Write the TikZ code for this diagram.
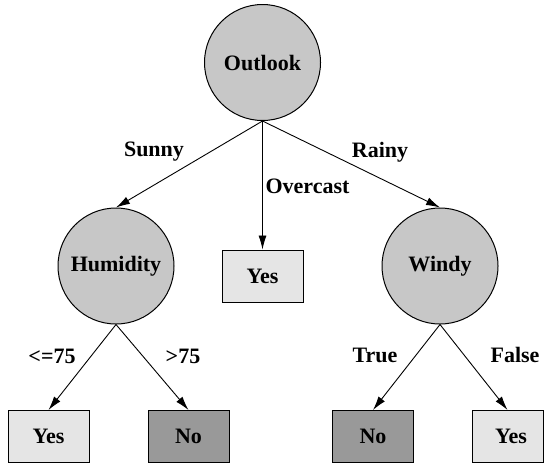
\documentclass[tikz,border=0pt]{standalone}
\usepackage{fontspec}
\setmainfont{Liberation Serif}
\usetikzlibrary{arrows.meta}
\definecolor{circfill}{gray}{0.78}
\definecolor{lightbox}{gray}{0.90}
\definecolor{darkbox}{gray}{0.60}
\tikzset{
  every node/.style={font=\fontsize{22}{26}\selectfont\bfseries},
  decision/.style={circle, draw, line width=1pt, fill=circfill, minimum size=116pt, inner sep=0pt},
  leafyes/.style={rectangle, draw, line width=1pt, fill=lightbox, minimum width=81pt, minimum height=52pt, inner sep=0pt},
  leafno/.style={rectangle, draw, line width=1pt, fill=darkbox, minimum width=81pt, minimum height=52pt, inner sep=0pt},
  branch/.style={line width=0.9pt, -{Latex[length=14pt,width=8pt]}},
  lbl/.style={anchor=base}
}
\begin{document}
\begin{tikzpicture}[x=1pt,y=-1pt]
\useasboundingbox (0,0) rectangle (545,464);
\node[decision] (outlook) at (262.5,62.5) {Outlook};
\node[decision] (humidity) at (116,266) {Humidity};
\node[decision] (windy) at (440,266) {Windy};
\node[leafyes] (yesmid) at (262.5,276) {Yes};
\node[leafyes] (yes1) at (48.5,436.5) {Yes};
\node[leafno] (no1) at (188.5,436.5) {No};
\node[leafno] (no2) at (373,436.5) {No};
\node[leafyes, minimum width=71pt] (yes2) at (507.5,436.5) {\hspace*{7pt}Yes};

\draw[branch] (outlook.south) -- (humidity.north);
\draw[branch] (outlook.south) -- (yesmid.north);
\draw[branch] (outlook.south) -- (windy.north);
\draw[branch] (humidity.south) -- (yes1.north);
\draw[branch] (humidity.south) -- (no1.north);
\draw[branch] (windy.south) -- (no2.north);
\draw[branch] (windy.south) -- (yes2.north);

\node[lbl] (lsunny) at (154,156) {Sunny};
\node[lbl] (lrainy) at (380,157) {Rainy};
\node[lbl] (lover) at (307.5,193) {Overcast};
\node[lbl] (lle) at (52,363) {<=75};
\node[lbl] (lgt) at (183,363) {>75};
\node[lbl] (ltrue) at (375,362) {True};
\node[lbl] (lfalse) at (515,362) {False};
\end{tikzpicture}
\end{document}
